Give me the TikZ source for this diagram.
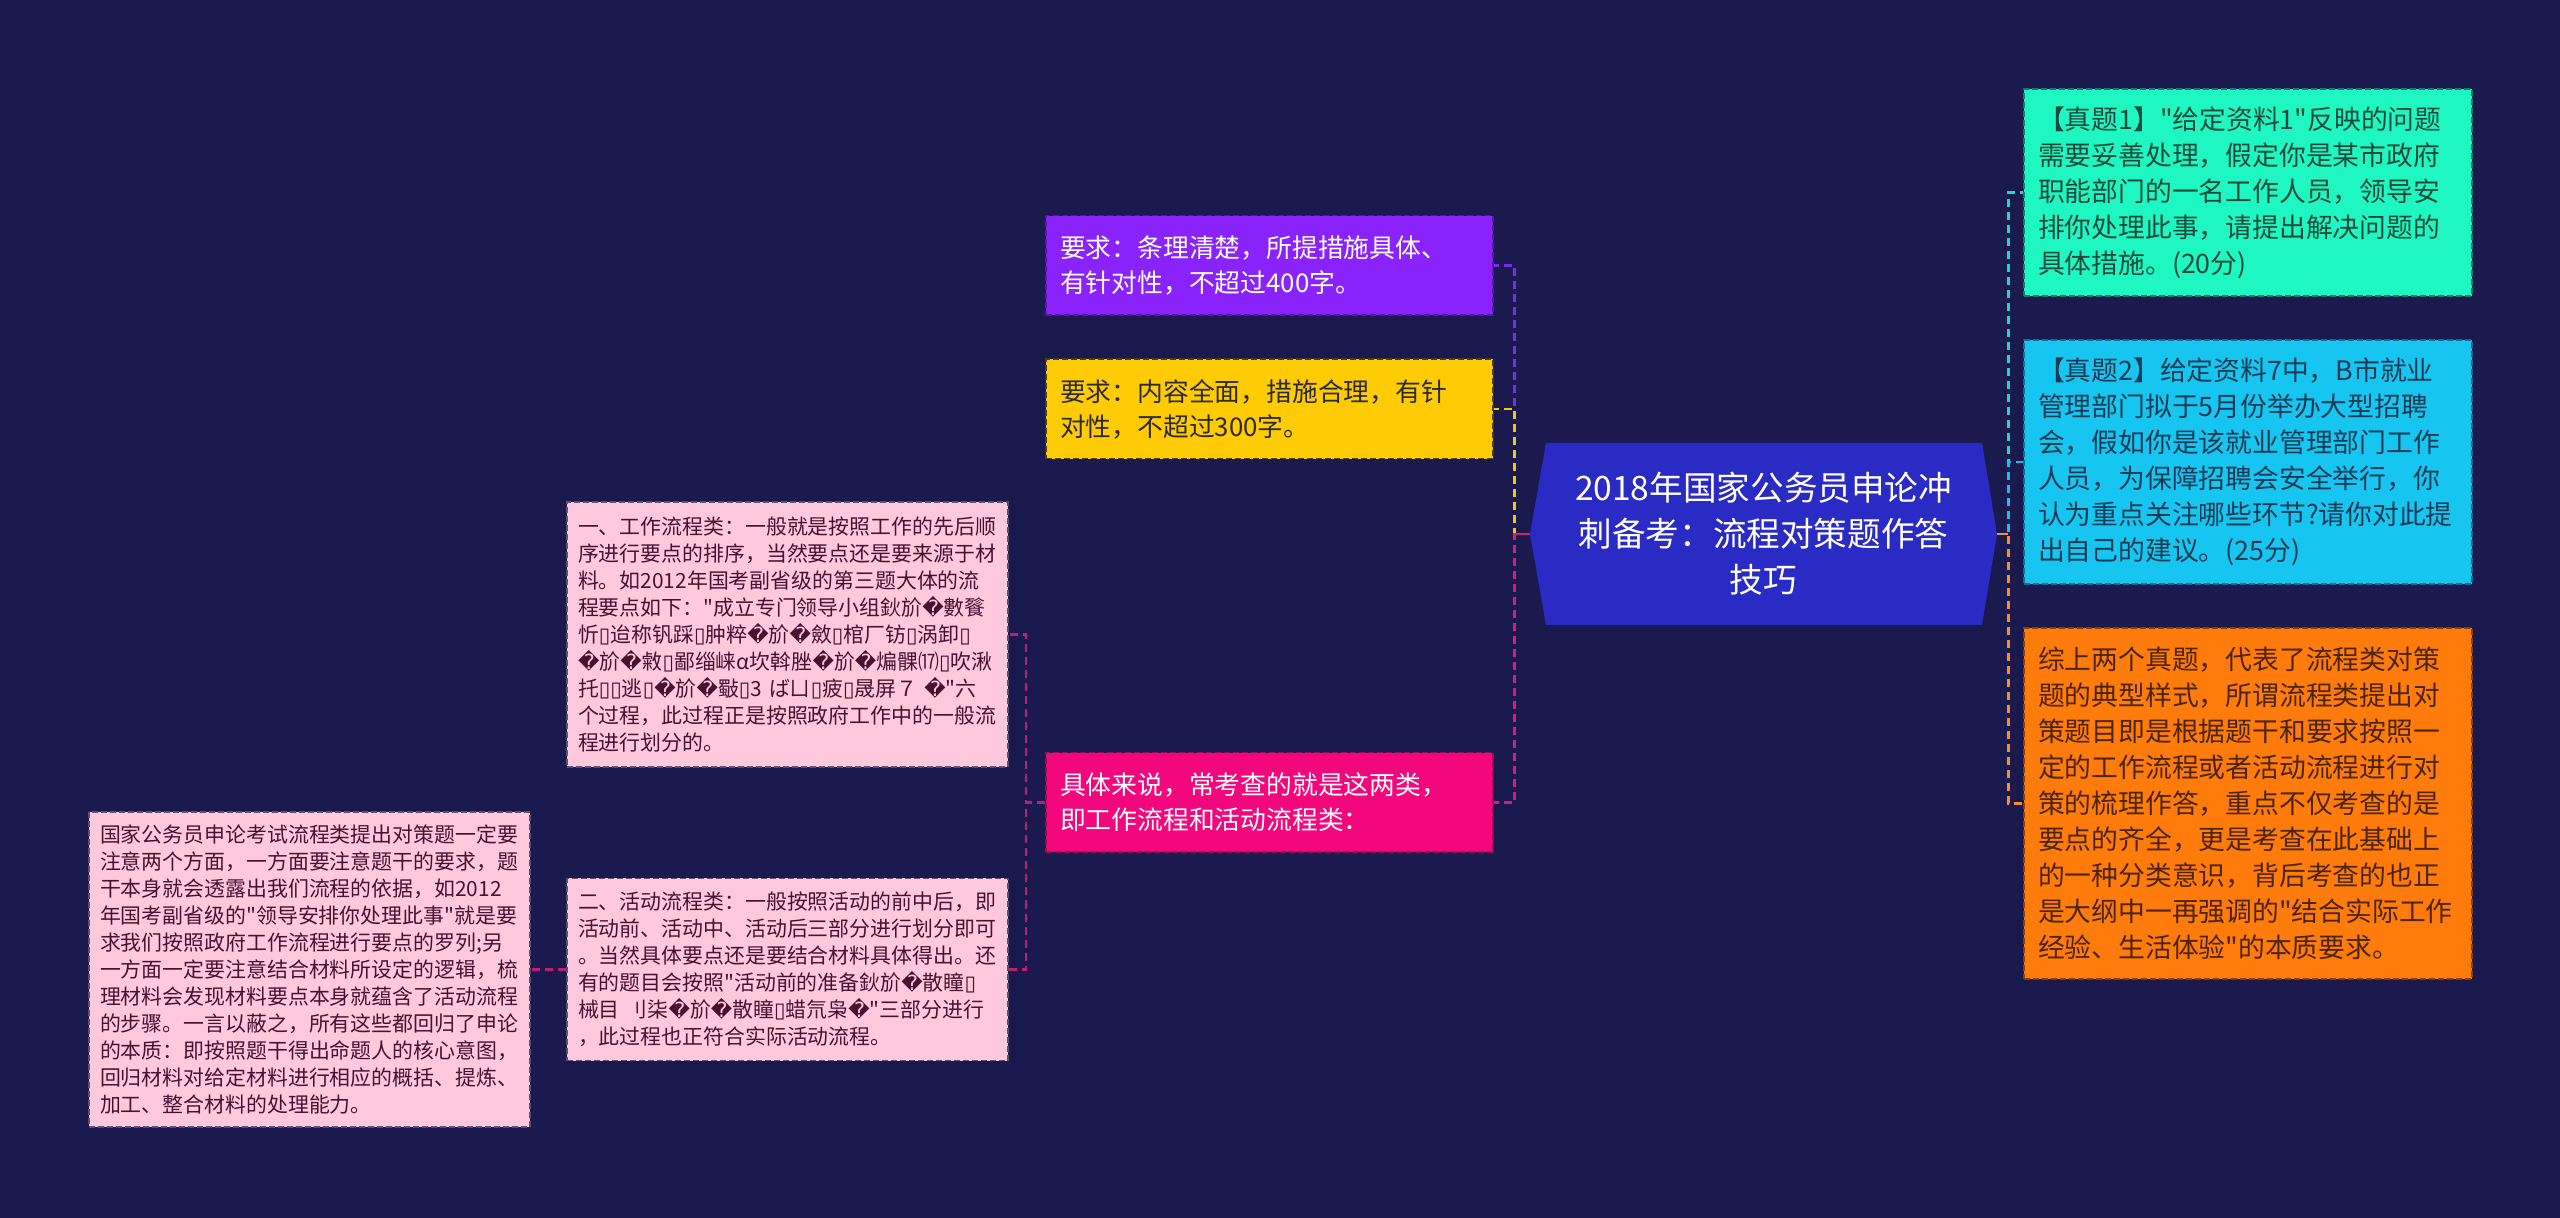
\documentclass[tikz,border=0pt]{standalone}
\usepackage{fontspec}
\setmainfont{Noto Sans CJK SC}[Ligatures=TeXOff]
\newfontfamily\dvfont{DejaVu Sans}
\newcommand{\rpch}{{\dvfont\char"FFFD}}
\newcommand{\tofu}{{\dvfont\char"25AF}}
\definecolor{bgC}{HTML}{1B1A4E}
\definecolor{centerF}{HTML}{2A2BC4}
\definecolor{purpleF}{HTML}{8A22FC}
\definecolor{purpleD}{HTML}{5B14B0}
\definecolor{purpleL}{HTML}{7B2CEB}
\definecolor{yellowF}{HTML}{FFCB05}
\definecolor{yellowD}{HTML}{4A3F10}
\definecolor{yellowT}{HTML}{2B2B2B}
\definecolor{yellowL}{HTML}{F2C80C}
\definecolor{magF}{HTML}{F2077C}
\definecolor{magD}{HTML}{9A0A50}
\definecolor{magL}{HTML}{D61C7F}
\definecolor{magLL}{HTML}{C21C7A}
\definecolor{pinkF}{HTML}{FFC9DD}
\definecolor{pinkD}{HTML}{5A5070}
\definecolor{pinkT}{HTML}{4A1030}
\definecolor{tealF}{HTML}{1EF7C2}
\definecolor{tealD}{HTML}{1A7A6A}
\definecolor{tealT}{HTML}{1D4A3C}
\definecolor{tealL}{HTML}{1ED8C0}
\definecolor{cyanF}{HTML}{16C6F0}
\definecolor{cyanD}{HTML}{1A6A90}
\definecolor{cyanT}{HTML}{173B55}
\definecolor{cyanL}{HTML}{16C0E8}
\definecolor{orangeF}{HTML}{FF7B0C}
\definecolor{orangeD}{HTML}{8A3E00}
\definecolor{orangeT}{HTML}{4A2508}
\definecolor{orangeL}{HTML}{FF8A2A}
\tikzset{
  conn/.style={line width=1.2pt, dash pattern=on 4pt off 2.5pt},
  stub/.style={line width=1.2pt},
  boxbase/.style={rectangle, line width=0.75pt, dash pattern=on 3pt off 1.5pt, inner ysep=0pt, align=left},
  pinkbox/.style={boxbase, fill=pinkF, draw=pinkD, text=pinkT, font=\fontsize{10.45pt}{13.5pt}\selectfont, minimum width=220.5pt, text width=209.5pt, inner xsep=5.5pt},
  midbox/.style={boxbase, font=\fontsize{12.9pt}{17.5pt}\selectfont, minimum width=223.5pt, text width=209.5pt, inner xsep=7pt, minimum height=49.75pt},
  rightbox/.style={boxbase, font=\fontsize{13.4pt}{18pt}\selectfont, minimum width=224pt, text width=210pt, inner xsep=7pt},
  centerbox/.style={inner sep=0pt, minimum width=233.5pt, minimum height=91pt, align=center, text=white, font=\fontsize{16.8pt}{23pt}\selectfont}
}
\begin{document}
\begin{tikzpicture}[x=0.5pt,y=-0.5pt]
\fill[bgC] (0,0) rectangle (2560,1218);
\useasboundingbox (0,0) rectangle (2560,1218);

% center
\fill[centerF] (1530,534) -- (1546,443) -- (1982,443) -- (1997,534) -- (1982,625) -- (1546,625) -- cycle;
\node[centerbox] (center) at (1763.5,534) {2018年国家公务员申论冲\\刺备考：流程对策题作答\\技巧};

% left branch
\node[midbox, fill=purpleF, draw=purpleD, text=white] (purplebox) at (1269.5,265.5)
 {要求：条理清楚，所提措施具体、\\有针对性，不超过400字。};
\node[midbox, fill=yellowF, draw=yellowD, text=yellowT] (yellowbox) at (1269.5,409)
 {要求：内容全面，措施合理，有针\\对性，不超过300字。};
\node[midbox, fill=magF, draw=magD, text=white] (magbox) at (1269.5,802.5)
 {具体来说，常考查的就是这两类，\\即工作流程和活动流程类：};

\node[pinkbox, minimum height=132.5pt] (pinkA) at (787.5,634.5)
 {一、工作流程类：一般就是按照工作的先后顺\\
 序进行要点的排序，当然要点还是要来源于材\\
 料。如2012年国考副省级的第三题大体的流\\
 程要点如下："成立专门领导小组鈥斺\rpch{}數餮\\
 忻\tofu{}迨称钒踩\tofu{}肿粹\rpch{}斺\rpch{}斂\tofu{}棺厂钫\tofu{}涡卸\tofu\\
 \rpch{}斺\rpch{}敹\tofu{}鄙缁崃α坎斡脞\rpch{}斺\rpch{}煸髁⒄\tofu{}吹湫\\
 托\tofu\tofu{}逃\tofu\rpch{}斺\rpch{}斀\tofu{}3~ばㄩ\tofu{}疲\tofu{}晟屏７~\rpch{}"六\\
 个过程，此过程正是按照政府工作中的一般流\\
 程进行划分的。};

\node[pinkbox, minimum height=91pt] (pinkB) at (787.5,969.5)
 {二、活动流程类：一般按照活动的前中后，即\\
 活动前、活动中、活动后三部分进行划分即可\\
 。当然具体要点还是要结合材料具体得出。还\\
 有的题目会按照"活动前的准备鈥斺\rpch{}散瞳\tofu\\
 械目~刂柒\rpch{}斺\rpch{}散瞳\tofu{}蜡氘枭\rpch{}"三部分进行\\
 ，此过程也正符合实际活动流程。};

\node[pinkbox, minimum height=157.5pt] (leftbox) at (309.5,969.5)
 {国家公务员申论考试流程类提出对策题一定要\\
 注意两个方面，一方面要注意题干的要求，题\\
 干本身就会透露出我们流程的依据，如2012\\
 年国考副省级的"领导安排你处理此事"就是要\\
 求我们按照政府工作流程进行要点的罗列;另\\
 一方面一定要注意结合材料所设定的逻辑，梳\\
 理材料会发现材料要点本身就蕴含了活动流程\\
 的步骤。一言以蔽之，所有这些都回归了申论\\
 的本质：即按照题干得出命题人的核心意图，\\
 回归材料对给定材料进行相应的概括、提炼、\\
 加工、整合材料的处理能力。};

% right branch
\node[rightbox, fill=tealF, draw=tealD, text=tealT, minimum height=103.5pt] (tealbox) at (2248,192.5)
 {【真题1】"给定资料1"反映的问题\\
 需要妥善处理，假定你是某市政府\\
 职能部门的一名工作人员，领导安\\
 排你处理此事，请提出解决问题的\\
 具体措施。(20分)};
\node[rightbox, fill=cyanF, draw=cyanD, text=cyanT, minimum height=122pt] (cyanbox) at (2248,462)
 {【真题2】给定资料7中，B市就业\\
 管理部门拟于5月份举办大型招聘\\
 会，假如你是该就业管理部门工作\\
 人员，为保障招聘会安全举行，你\\
 认为重点关注哪些环节?请你对此提\\
 出自己的建议。(25分)};
\node[rightbox, fill=orangeF, draw=orangeD, text=orangeT, minimum height=175.5pt] (orangebox) at (2248,803.5)
 {综上两个真题，代表了流程类对策\\
 题的典型样式，所谓流程类提出对\\
 策题目即是根据题干和要求按照一\\
 定的工作流程或者活动流程进行对\\
 策的梳理作答，重点不仅考查的是\\
 要点的齐全，更是考查在此基础上\\
 的一种分类意识，背后考查的也正\\
 是大纲中一再强调的"结合实际工作\\
 经验、生活体验"的本质要求。};

% connectors
\draw[conn, draw=purpleL] (center.west) -- ++(-15,0) |- (purplebox.east);
\draw[conn, draw=yellowL] (center.west) -- ++(-15,0) |- (yellowbox.east);
\draw[conn, draw=magL] (center.west) -- ++(-15,0) |- (magbox.east);
\draw[stub, draw=magL] (center.west) -- ++(-15,0);
\draw[conn, draw=tealL] (center.east) -- ++(11,0) |- (tealbox.west);
\draw[conn, draw=cyanL] (center.east) -- ++(11,0) |- (cyanbox.west);
\draw[conn, draw=orangeL] (center.east) -- ++(11,0) |- (orangebox.west);
\draw[stub, draw=orangeL] (center.east) -- ++(11,0);
\draw[conn, draw=magLL] (magbox.west) -- ++(-19,0) |- (pinkA.east);
\draw[conn, draw=magLL] (magbox.west) -- ++(-19,0) |- (pinkB.east);
\draw[conn, draw=magLL] (pinkB.west) -- (pinkB.west -| leftbox.east);
\end{tikzpicture}
\end{document}
